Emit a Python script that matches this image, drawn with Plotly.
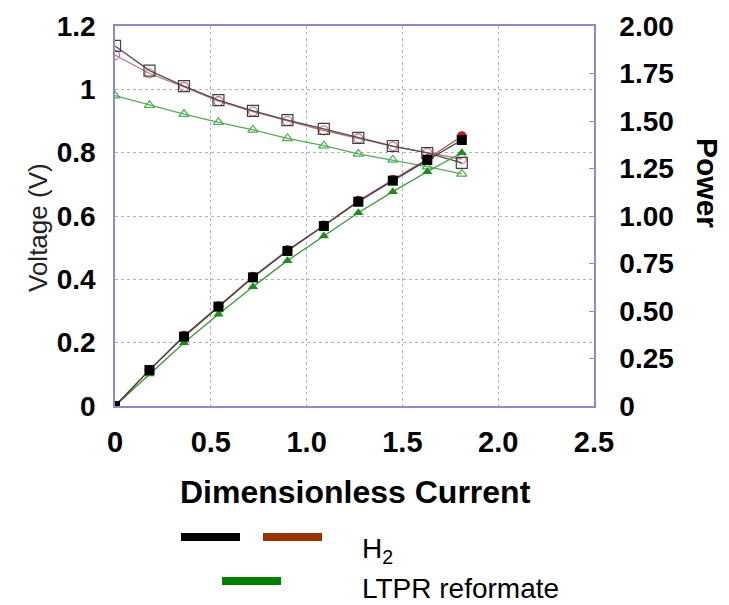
import plotly.graph_objects as go

# dimensionless current (shared x)
current = [0, 0.18, 0.36, 0.54, 0.72, 0.90, 1.09, 1.27, 1.45, 1.63, 1.81]

# H2 - black set
h2_black_voltage = [1.137, 1.059, 1.010, 0.966, 0.932, 0.903, 0.875, 0.847, 0.821, 0.799, 0.768]
h2_black_power = [0, 0.189, 0.365, 0.523, 0.677, 0.816, 0.947, 1.075, 1.186, 1.295, 1.40]

# H2 - brown set
h2_brown_voltage = [1.108, 1.050, 1.008, 0.963, 0.930, 0.900, 0.870, 0.845, 0.820, 0.800, 0.780]
h2_brown_power = [0, 0.19, 0.37, 0.525, 0.68, 0.82, 0.95, 1.08, 1.19, 1.30, 1.42]

# LTPR reformate - green set
ltpr_voltage = [0.980, 0.950, 0.922, 0.896, 0.872, 0.845, 0.822, 0.796, 0.777, 0.756, 0.733]
ltpr_power = [0, 0.168, 0.333, 0.483, 0.628, 0.765, 0.895, 1.017, 1.128, 1.233, 1.333]

x_ticks = [0, 0.5, 1.0, 1.5, 2.0, 2.5]
x_tick_text = ["0", "0.5", "1.0", "1.5", "2.0", "2.5"]
power_ticks = [0, 0.25, 0.5, 0.75, 1.0, 1.25, 1.5, 1.75, 2.0]
power_tick_text = ["0", "0.25", "0.50", "0.75", "1.00", "1.25", "1.50", "1.75", "2.00"]

FONT = "Liberation Sans, Arial, sans-serif"
AXIS_COLOR = "#8c8cc8"
GRID_COLOR = "#b0b0cc"

# window size and plot area in window pixels; the page body adds an 8px offset
W, H = 729, 605
OFF = 8
L, R, T, B = 115, 594, 26, 406
pw, ph = R - L, B - T


def px(x):
    return (x - L) / pw


def py(y):
    return (B - y) / ph


fig = go.Figure()

# power curves (right axis)
fig.add_trace(go.Scatter(x=current, y=ltpr_power, yaxis="y2", mode="lines+markers",
                         line=dict(color="#3a9a3a", width=1.3),
                         marker=dict(symbol="triangle-up", size=9, color="#1e8c1e")))
fig.add_trace(go.Scatter(x=current, y=h2_brown_power, yaxis="y2", mode="lines+markers",
                         line=dict(color="#b05050", width=1.3),
                         marker=dict(symbol="circle", size=10, color="#c02020")))
fig.add_trace(go.Scatter(x=current, y=h2_black_power, yaxis="y2", mode="lines+markers",
                         line=dict(color="#404040", width=1.3),
                         marker=dict(symbol="square", size=10, color="#000000")))

# voltage curves (left axis)
fig.add_trace(go.Scatter(x=current, y=ltpr_voltage, mode="lines+markers",
                         line=dict(color="#5aaa5a", width=1.3),
                         marker=dict(symbol="triangle-up-open", size=9, color="#4caf4c",
                                     line=dict(width=1.2))))
fig.add_trace(go.Scatter(x=current, y=h2_brown_voltage, mode="lines+markers",
                         line=dict(color="#c07878", width=1.3),
                         marker=dict(symbol="circle-open", size=9, color="#d06878",
                                     line=dict(width=1.2))))
fig.add_trace(go.Scatter(x=current, y=h2_black_voltage, mode="lines+markers",
                         line=dict(color="#505050", width=1.3),
                         marker=dict(symbol="square-open", size=11, color="#404040",
                                     line=dict(width=1.2))))

# legend drawn by hand, as in the source figure
legend_lines = [
    (181, 240, 537, "#000000"),
    (263, 322, 537, "#993300"),
    (222, 281, 581, "#008000"),
]
shapes = []
for x0, x1, y0, col in legend_lines:
    shapes.append(dict(type="line", xref="paper", yref="paper",
                       x0=px(x0), x1=px(x1), y0=py(y0), y1=py(y0),
                       line=dict(color=col, width=8)))

annotations = [
    dict(text="Voltage (V)", x=px(38), y=py(228), textangle=-90,
         font=dict(size=26, color="#222222")),
    dict(text="<b>Power</b>", x=px(707), y=py(183), textangle=90,
         font=dict(size=30, color="#000000")),
    dict(text="<b>Dimensionless Current</b>", x=px(355), y=py(492),
         font=dict(size=32, color="#000000")),
    dict(text="H<sub>2</sub>", x=px(360), y=py(550), xanchor="left",
         font=dict(size=28, color="#000000")),
    dict(text="LTPR reformate", x=px(360), y=py(588), xanchor="left",
         font=dict(size=28, color="#000000")),
]
for a in annotations:
    a.update(xref="paper", yref="paper", showarrow=False, yanchor="middle")
    a.setdefault("xanchor", "center")
    a["font"]["family"] = FONT

fig.update_layout(
    width=W - OFF, height=H - OFF,
    margin=dict(l=L - OFF, r=W - R, t=T - OFF, b=H - B, autoexpand=False),
    paper_bgcolor="white", plot_bgcolor="white",
    showlegend=False,
    font=dict(family=FONT, color="#000000"),
    xaxis=dict(range=[0, 2.5], tickvals=x_ticks, ticktext=x_tick_text,
               showline=True, mirror=True, linecolor=AXIS_COLOR, linewidth=1.5,
               showgrid=True, gridcolor=GRID_COLOR, griddash="dot", gridwidth=1.2,
               zeroline=False, ticks="outside", ticklen=9, tickcolor="rgba(0,0,0,0)",
               tickfont=dict(size=29, weight="bold")),
    yaxis=dict(range=[0, 1.2], dtick=0.2,
               showline=True, linecolor=AXIS_COLOR, linewidth=1.5,
               showgrid=True, gridcolor=GRID_COLOR, griddash="dot", gridwidth=1.2,
               zeroline=False, ticks="outside", ticklen=12, tickcolor="rgba(0,0,0,0)",
               tickfont=dict(size=28, weight="bold")),
    yaxis2=dict(range=[0, 2.0], overlaying="y", side="right",
                tickvals=power_ticks, ticktext=power_tick_text,
                showline=True, linecolor=AXIS_COLOR, linewidth=1.5,
                showgrid=False, zeroline=False,
                ticks="inside", ticklen=5, tickcolor=AXIS_COLOR,
                ticklabelstandoff=18,
                tickfont=dict(size=28, weight="bold")),
    shapes=shapes,
    annotations=annotations,
)

fig.write_html("out.html")
